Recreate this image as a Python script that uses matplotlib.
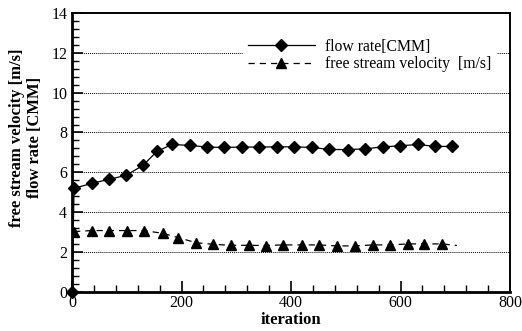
import matplotlib
matplotlib.use("Agg")
import matplotlib.pyplot as plt
from matplotlib.ticker import MultipleLocator

plt.rcParams['font.family'] = ['Liberation Serif', 'DejaVu Serif']

# flow rate [CMM]
flow_iter = [0, 3.7, 36.5, 67.6, 98.6, 129.7, 155, 182.6, 215.5, 246.6, 277.6,
             310.5, 341.6, 374.4, 405.5, 438.4, 469.4, 504, 535, 568, 599,
             632, 663, 694]
flow_rate = [0, 5.2, 5.45, 5.65, 5.85, 6.35, 7.05, 7.4, 7.35, 7.27, 7.25,
             7.27, 7.27, 7.28, 7.28, 7.25, 7.15, 7.14, 7.18, 7.28, 7.33,
             7.4, 7.3, 7.3]

# free stream velocity [m/s]
vel_iter = [3.7, 36.5, 67.6, 100.5, 131.5, 166, 193.6, 226.5, 257.5, 290.4,
            323.3, 354.3, 385.4, 420, 451, 484, 517, 550, 581, 614, 643,
            676, 703]
velocity = [3.03, 3.08, 3.08, 3.08, 3.08, 2.94, 2.73, 2.47, 2.39, 2.34,
            2.34, 2.33, 2.36, 2.36, 2.36, 2.31, 2.31, 2.36, 2.36, 2.41, 2.41,
            2.41, 2.33]

fig = plt.figure(figsize=(5.22, 3.31), dpi=100)
ax = fig.add_axes([0.138, 0.118, 0.839, 0.843])

for yv in [2, 4, 6, 8, 10, 12]:
    ax.axhline(yv, color='black', linestyle=(0, (1, 1)), linewidth=0.7, zorder=1)

ax.plot(flow_iter, flow_rate, color='black', linewidth=0.9, marker='D',
        markersize=6.5, label='flow rate[CMM]', zorder=3, clip_on=False)
ax.plot(vel_iter, velocity, color='black', linewidth=0.9, linestyle=(0, (5, 4)),
        marker='^', markersize=6.8, markevery=slice(0, len(vel_iter) - 1),
        label='free stream velocity  [m/s]', zorder=3)

ax.set_xlim(0, 800)
ax.set_ylim(0, 14)
ax.xaxis.set_major_locator(MultipleLocator(200))
ax.xaxis.set_minor_locator(MultipleLocator(40))
ax.yaxis.set_major_locator(MultipleLocator(2))
ax.yaxis.set_minor_locator(MultipleLocator(0.4))
ax.tick_params(which='both', direction='in', labelsize=11.5, colors='black')
ax.tick_params(which='major', length=8, width=1.2)
ax.tick_params(which='minor', length=5, width=1)
ax.tick_params(axis='x', which='major', pad=2.5)
ax.tick_params(axis='y', which='both', right=False)
ax.tick_params(axis='x', which='both', top=False)

for side in ['left', 'bottom']:
    ax.spines[side].set_linewidth(2)
for side in ['top', 'right']:
    ax.spines[side].set_linewidth(1.4)

ax.set_xlabel('iteration', fontsize=12, fontweight='bold', labelpad=0.5)
ax.set_ylabel('free stream velocity [m/s]\nflow rate [CMM]', fontsize=12,
              fontweight='bold', linespacing=1.2)
ax.yaxis.set_label_coords(-0.066, 0.552)

leg = ax.legend(loc='upper left', bbox_to_anchor=(0.39, 0.925), frameon=True,
                fontsize=11.3, handlelength=4.3, borderpad=0.3, labelspacing=0.12,
                handletextpad=0.64, borderaxespad=0)
leg.get_frame().set_edgecolor('white')
leg.get_frame().set_facecolor('white')
leg.get_frame().set_alpha(1)
leg.set_zorder(2)

fig.savefig('out.png', dpi=100)
